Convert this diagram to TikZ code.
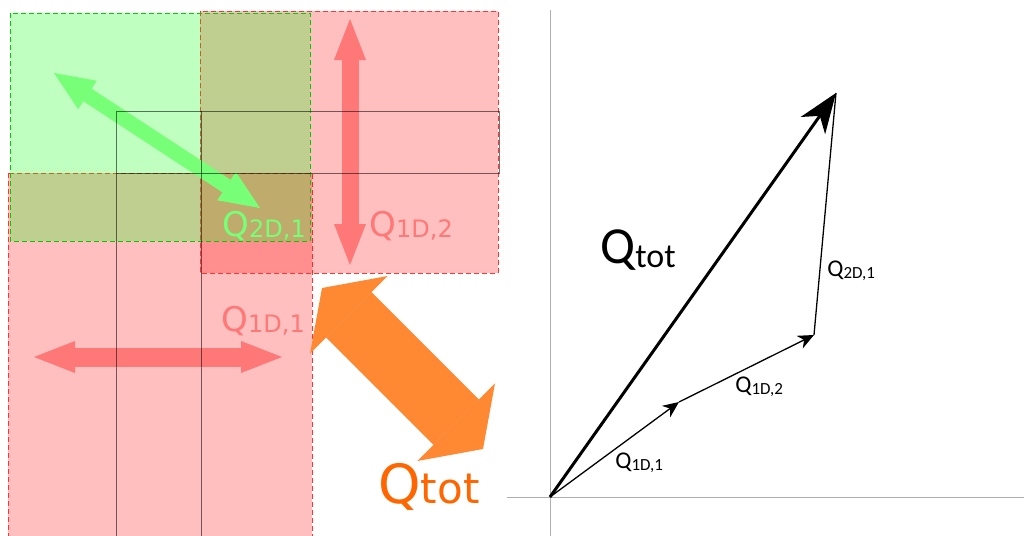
\documentclass[tikz,border=0pt]{standalone}
\usepackage{fontspec}
\setmainfont{DejaVu Sans}
\newfontfamily\calfont{Carlito}
\usetikzlibrary{arrows.meta}

\definecolor{arrowred}{RGB}{255,120,120}
\definecolor{arrowgreen}{RGB}{120,255,120}
\definecolor{arroworange}{RGB}{255,136,51}
\definecolor{textorange}{RGB}{255,102,0}
\definecolor{axisgray}{RGB}{175,175,175}

% subscripted labels
\newcommand{\qleft}[1]{{\fontsize{17}{17}\selectfont Q\raisebox{-0.5pt}{\fontsize{12}{12}\selectfont #1}}}
\newcommand{\qright}[1]{{\calfont\fontsize{12}{12}\selectfont Q\raisebox{-1pt}{\fontsize{8.5}{8.5}\selectfont #1}}}

\begin{document}
\begin{tikzpicture}[
    x=0.5pt,
    y=-0.5pt,
    redbox/.style={
        fill=red,
        fill opacity=0.25,
        draw=red!80,
        dashed,
        dash pattern=on 2.5pt off 1.5pt,
        line width=0.5pt
    },
    greenbox/.style={
        fill=green,
        fill opacity=0.25,
        draw=green!80!black,
        dashed,
        dash pattern=on 2.5pt off 1.5pt,
        line width=0.5pt
    },
    gridline/.style={
        draw=black,
        draw opacity=0.55,
        line width=0.5pt
    },
    redarrow/.style={
        draw=arrowred,
        line width=8.5pt,
        arrows={Triangle[length=20.5pt,width=16pt,line width=0pt]-Triangle[length=20.5pt,width=16pt,line width=0pt]}
    },
    greenarrow/.style={
        draw=arrowgreen,
        line width=7.5pt,
        arrows={Triangle[length=20pt,width=17pt,line width=0pt]-Triangle[length=20pt,width=17pt,line width=0pt]}
    },
    orangearrow/.style={
        draw=arroworange,
        line width=32pt,
        arrows={Triangle[length=19pt,width=55pt,line width=0pt]-Triangle[length=19pt,width=55pt,line width=0pt]}
    },
    axis/.style={
        draw=axisgray,
        line width=0.5pt
    },
    vec/.style={
        line width=0.65pt,
        -{Stealth[length=8pt,width=7pt,inset=2.5pt]}
    },
    totvec/.style={
        line width=1.5pt,
        -{Stealth[length=20pt,width=15pt,inset=6pt,line width=0pt]}
    },
    lab/.style={
        inner sep=0pt,
        anchor=base west
    }
]

\useasboundingbox (0,0) rectangle (1024,536);

% =================================================
% Flux regions (left)
% =================================================

\path[redbox]   (8,173)   rectangle (312,540);
\path[redbox]   (200,11)  rectangle (498,273);
\path[greenbox] (10,13)   rectangle (310,241);

% =================================================
% Arrow end points
% =================================================

\coordinate (G1) at (54,73);
\coordinate (G2) at (260,208);
\coordinate (V1) at (350,19);
\coordinate (V2) at (350,265);
\coordinate (H1) at (34,357);
\coordinate (H2) at (282,357);
\coordinate (T1) at (322,288);
\coordinate (T2) at (483,449);

% =================================================
% Block arrows
% =================================================

\draw[greenarrow]  (G1)--(G2);
\draw[redarrow]    (V1)--(V2);
\draw[redarrow, line width=9.5pt] (H1)--(H2);
\draw[orangearrow] (T1)--(T2);

% =================================================
% Cell outlines
% =================================================

\draw[gridline] (116,536)--(116,111)--(499,111)--(499,173)--(116,173);
\draw[gridline] (201,111)--(201,536);

% =================================================
% Labels (left)
% =================================================

\node[lab, text=arrowgreen] (l2d1) at (222,236) {\qleft{2D,1}};
\node[lab, text=arrowred]   (l1d2) at (369,236) {\qleft{1D,2}};
\node[lab, text=arrowred]   (l1d1) at (221,331) {\qleft{1D,1}};
\node[lab, text=textorange] (ltot) at (378,503)
    {\fontsize{27}{27}\selectfont Q\fontsize{21}{21}\selectfont tot};

% =================================================
% Vector sum (right)
% =================================================

\coordinate (O)  at (550,497);
\coordinate (P1) at (679,402);
\coordinate (P2) at (814,335);
\coordinate (P3) at (836,93);
\coordinate (XA) at (507,497);
\coordinate (XB) at (1024,497);
\coordinate (YA) at (550,10);
\coordinate (YB) at (550,536);

\draw[axis] (XA)--(XB);
\draw[axis] (YA)--(YB);

\draw[vec] (O)--(P1);
\draw[vec] (P1)--(P2);
\draw[line width=0.65pt] (P2)--(P3);
\draw[totvec] (O)--(P3);

% =================================================
% Labels (right)
% =================================================

\node[lab] (rtot) at (600,263)
    {\calfont\fontsize{26}{26}\selectfont Q\raisebox{-2pt}{\fontsize{17}{17}\selectfont tot}};
\node[lab] (r2d1) at (827,276) {\qright{2D,1}};
\node[lab] (r1d2) at (735,392) {\qright{1D,2}};
\node[lab] (r1d1) at (615,468) {\qright{1D,1}};

\end{tikzpicture}
\end{document}
